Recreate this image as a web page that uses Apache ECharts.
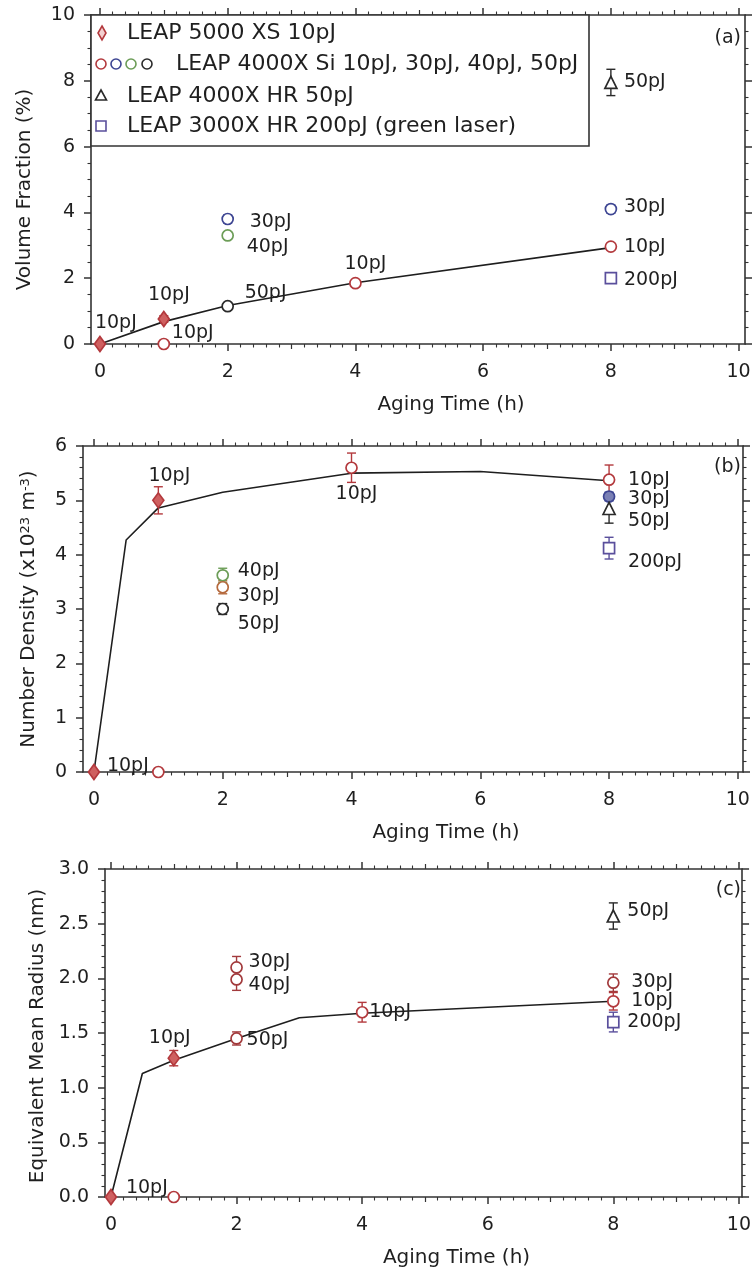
<!DOCTYPE html>
<html><head><meta charset="utf-8">
<script src="https://cdn.jsdelivr.net/npm/echarts@6/dist/echarts.min.js"></script>
<style>html,body{margin:0;padding:0;background:#fff}#c{width:754px;height:1277px}</style>
</head><body><div id="c"></div>
<script>
// ================= DATA =================
const xTickValues = [0, 2, 4, 6, 8, 10];
const yTickValuesA = [0, 2, 4, 6, 8, 10];
const yTickValuesB = [0, 1, 2, 3, 4, 5, 6];
const yTickValuesC = [0, 0.5, 1, 1.5, 2, 2.5, 3];

// Panel (a) Volume Fraction (%)
const a_trend = [[0, 0], [1, 0.68], [2, 1.17], [4, 1.86], [8, 2.93]];
const a_leap5000 = [[0, 0], [1, 0.76]];
const a_leap5000_err = [0, 0.1];
const a_leap5000_lab = ['10pJ', '10pJ'];
const a_si10 = [[1, 0], [4, 1.85], [8, 2.96]];
const a_si10_err = [0, 0.06, 0.06];
const a_si10_lab = ['10pJ', '10pJ', '10pJ'];
const a_si30 = [[2, 3.8], [8, 4.1]];
const a_si30_err = [0.12, 0.12];
const a_si30_lab = ['30pJ', '30pJ'];
const a_si40 = [[2, 3.3]];
const a_si40_err = [0.1];
const a_si40_lab = ['40pJ'];
const a_si50 = [[2, 1.15]];
const a_si50_err = [0.04];
const a_si50_lab = ['50pJ'];
const a_hr50 = [[8, 7.95]];
const a_hr50_err = [0.4];
const a_hr50_lab = ['50pJ'];
const a_x3000 = [[8, 2.0]];
const a_x3000_err = [0.08];
const a_x3000_lab = ['200pJ'];

// Panel (b) Number Density (x10^23 m^-3)
const b_trend = [[0, 0], [0.5, 4.27], [1, 4.86], [2, 5.15], [4, 5.5], [6, 5.53], [8, 5.36]];
const b_leap5000 = [[0, 0], [1, 5.0]];
const b_leap5000_err = [0, 0.25];
const b_leap5000_lab = ['10pJ', '10pJ'];
const b_si10 = [[1, 0], [4, 5.6], [8, 5.38]];
const b_si10_err = [0, 0.27, 0.27];
const b_si10_lab = ['', '10pJ', '10pJ'];
const b_si40 = [[2, 3.62]];
const b_si40_err = [0.13];
const b_si40_lab = ['40pJ'];
const b_si30 = [[2, 3.4]];
const b_si30_err = [0.12];
const b_si30_lab = ['30pJ'];
const b_si50 = [[2, 3.0]];
const b_si50_err = [0.1];
const b_si50_lab = ['50pJ'];
const b_si30h = [[8, 5.07]];
const b_si30h_err = [0.08];
const b_si30h_lab = ['30pJ'];
const b_hr50 = [[8, 4.85]];
const b_hr50_err = [0.27];
const b_hr50_lab = ['50pJ'];
const b_x3000 = [[8, 4.12]];
const b_x3000_err = [0.2];
const b_x3000_lab = ['200pJ'];

// Panel (c) Equivalent Mean Radius (nm)
const c_trend = [[0, 0], [0.5, 1.13], [1, 1.25], [2, 1.45], [3, 1.64], [4, 1.68], [8, 1.79]];
const c_leap5000 = [[0, 0], [1, 1.27]];
const c_leap5000_err = [0, 0.07];
const c_leap5000_lab = ['', '10pJ'];
const c_si10 = [[1, 0], [4, 1.69], [8, 1.79]];
const c_si10_err = [0, 0.09, 0.08];
const c_si10_lab = ['10pJ', '10pJ', '10pJ'];
const c_si30 = [[2, 2.1], [8, 1.96]];
const c_si30_err = [0.1, 0.08];
const c_si30_lab = ['30pJ', '30pJ'];
const c_si40 = [[2, 1.99]];
const c_si40_err = [0.1];
const c_si40_lab = ['40pJ'];
const c_si50 = [[2, 1.45]];
const c_si50_err = [0.06];
const c_si50_lab = ['50pJ'];
const c_hr50 = [[8, 2.57]];
const c_hr50_err = [0.12];
const c_hr50_lab = ['50pJ'];
const c_x3000 = [[8, 1.6]];
const c_x3000_err = [0.09];
const c_x3000_lab = ['200pJ'];

// ================= STYLE =================
const FONT = 'DejaVu Sans';
const INK = '#1f1f1f';
const FRAME = '#333333';
const COL = {
  red: '#b3393d', blue: '#3d4592', green: '#6c9d57', black: '#2a2a2a',
  purple: '#5a4f9c', orange: '#b5693d', brown: '#a23a3c'
};
// label offsets [dx, dy, align] per point
const OFF = {
  a_leap5000: [[-5, -21, 'left'], [5, -24, 'center']],
  a_si10: [[8, -11, 'left'], [10, -19, 'center'], [13, 0, 'left']],
  a_si30: [[22, 3, 'left'], [13, -2, 'left']],
  a_si40: [[19, 12, 'left']],
  a_si50: [[17, -13, 'left']],
  a_hr50: [[13, 0, 'left']],
  a_x3000: [[13, 2, 'left']],
  b_leap5000: [[13, -6, 'left'], [11, -24, 'center']],
  b_si10: [[0, 0, 'left'], [5, 26, 'center'], [19, 0, 'left']],
  b_si40: [[15, -4, 'left']],
  b_si30: [[15, 9, 'left']],
  b_si50: [[15, 15, 'left']],
  b_si30h: [[19, 3, 'left']],
  b_hr50: [[19, 13, 'left']],
  b_x3000: [[19, 14, 'left']],
  c_leap5000: [[0, 0, 'left'], [-4, -20, 'center']],
  c_si10: [[-6, -9, 'right'], [7, 0, 'left'], [18, 0, 'left']],
  c_si30: [[12, -5, 'left'], [18, -1, 'left']],
  c_si40: [[12, 6, 'left']],
  c_si50: [[10, 2, 'left']],
  c_hr50: [[14, -5, 'left']],
  c_x3000: [[14, 0, 'left']]
};

const GRIDS = [
  { left: 91, width: 654, top: 15, height: 329, xmin: -0.14, xmax: 10.1, ymin: 0, ymax: 10,
    yLabels: yTickValuesA, yMajor: 2, yMinor: 0.5, yFmt: v => String(v),
    yName: 'Volume Fraction (%)', yGap: 56, yNamePad: [0, 20, 0, 0] },
  { left: 83, width: 660, top: 446, height: 326, xmin: -0.17, xmax: 10.08, ymin: 0, ymax: 6,
    yLabels: yTickValuesB, yMajor: 1, yMinor: 0.2, yFmt: v => String(v),
    yName: 'Number Density (x10{sup|23} m{sup|-3})', yGap: 44, yNamePad: [0, 0, 0, 0] },
  { left: 105, width: 640, top: 869, height: 328, xmin: -0.095, xmax: 10.05, ymin: 0, ymax: 3,
    yLabels: yTickValuesC, yMajor: 0.5, yMinor: 0.1, yFmt: v => v.toFixed(1),
    yName: 'Equivalent Mean Radius (nm)', yGap: 54, yNamePad: [0, 6, 0, 0] }
];

function steps(a, b, s) { const r = []; for (let i = 0; a + i * s <= b + 1e-9; i++) r.push(+(a + i * s).toFixed(4)); return r; }

const xAxes = [], yAxes = [];
GRIDS.forEach((g, gi) => {
  const evens = xTickValues;
  const odds = [1, 3, 5, 7, 9];
  const minors = steps(0, 10, 0.2).filter(v => Math.abs(v - Math.round(v)) > 1e-6);
  const base = { type: 'value', gridIndex: gi, min: g.xmin, max: g.xmax, splitLine: { show: false } };
  const line = { show: true, onZero: false, lineStyle: { color: FRAME, width: 1.6 } };
  const noLine = { show: false, onZero: false };
  ['bottom', 'top'].forEach(pos => {
    xAxes.push(Object.assign({}, base, {
      position: pos, axisLine: line,
      axisTick: { show: true, length: 7, customValues: evens, lineStyle: { color: FRAME, width: 1.5 } },
      axisLabel: pos === 'bottom'
        ? { show: true, customValues: xTickValues, margin: 19, fontSize: 19, color: INK, fontFamily: FONT }
        : { show: false },
      name: pos === 'bottom' ? 'Aging Time (h)' : '',
      nameLocation: 'middle', nameGap: 51,
      nameTextStyle: { fontSize: 20, color: INK, fontFamily: FONT, padding: [0, 0, 0, 66] }
    }));
    xAxes.push(Object.assign({}, base, {
      position: pos, axisLine: noLine, axisLabel: { show: false },
      axisTick: { show: true, length: 5, customValues: odds, lineStyle: { color: FRAME, width: 1.2 } }
    }));
    xAxes.push(Object.assign({}, base, {
      position: pos, axisLine: noLine, axisLabel: { show: false },
      axisTick: { show: true, length: 3.5, customValues: minors, lineStyle: { color: FRAME, width: 1.1 } }
    }));
  });
  const ybase = { type: 'value', gridIndex: gi, min: g.ymin, max: g.ymax, splitLine: { show: false } };
  const yMajors = steps(g.ymin, g.ymax, g.yMajor);
  const yMinors = steps(g.ymin, g.ymax, g.yMinor).filter(v => yMajors.every(m => Math.abs(m - v) > 1e-6));
  ['left', 'right'].forEach(pos => {
    yAxes.push(Object.assign({}, ybase, {
      position: pos, axisLine: line,
      axisTick: { show: true, length: 7, customValues: yMajors, lineStyle: { color: FRAME, width: 1.5 } },
      axisLabel: pos === 'left'
        ? { show: true, customValues: g.yLabels, formatter: g.yFmt, margin: 16, fontSize: 19, color: INK, fontFamily: FONT }
        : { show: false },
      name: pos === 'left' ? g.yName : '',
      nameLocation: 'middle', nameGap: g.yGap, nameRotate: 90,
      nameTextStyle: { fontSize: 20, color: INK, fontFamily: FONT, padding: g.yNamePad,
        rich: { sup: { fontSize: 13, verticalAlign: 'top', color: INK, fontFamily: FONT, padding: [0, 0, 6, 0] } } }
    }));
    yAxes.push(Object.assign({}, ybase, {
      position: pos, axisLine: noLine, axisLabel: { show: false },
      axisTick: { show: true, length: 3.5, customValues: yMinors, lineStyle: { color: FRAME, width: 1.1 } }
    }));
  });
});

function errItem(params, api) {
  const x = api.value(0), lo = api.value(1), hi = api.value(2);
  if (hi - lo <= 0) return null;
  const p1 = api.coord([x, hi]), p2 = api.coord([x, lo]);
  const w = 4.5;
  const st = { stroke: api.visual('color'), lineWidth: 1.4, fill: null };
  return { type: 'group', children: [
    { type: 'line', shape: { x1: p1[0], y1: p1[1], x2: p2[0], y2: p2[1] }, style: st },
    { type: 'line', shape: { x1: p1[0] - w, y1: p1[1], x2: p1[0] + w, y2: p1[1] }, style: st },
    { type: 'line', shape: { x1: p2[0] - w, y1: p2[1], x2: p2[0] + w, y2: p2[1] }, style: st }
  ] };
}

const series = [];
function addTrend(gi, data) {
  series.push({ type: 'line', xAxisIndex: gi * 6, yAxisIndex: gi * 4, data: data, symbol: 'none',
    lineStyle: { color: '#1e1e1e', width: 1.6 }, z: 3, silent: true, animation: false });
}
function addPoints(gi, key, data, err, labels, sty) {
  const offs = OFF[key];
  series.push({ type: 'custom', xAxisIndex: gi * 6, yAxisIndex: gi * 4, renderItem: errItem,
    itemStyle: { color: sty.color, opacity: 1 }, z: 2, animation: false, silent: true,
    data: data.map((d, i) => [d[0], d[1] - err[i], d[1] + err[i]]) });
  series.push({ type: 'scatter', xAxisIndex: gi * 6, yAxisIndex: gi * 4, z: 4, animation: false, silent: true,
    symbol: sty.symbol, symbolSize: sty.size,
    itemStyle: { color: sty.fill, borderColor: sty.color, borderWidth: 1.7, opacity: 1 },
    data: data.map((d, i) => ({ value: d, label: {
      show: !!labels[i], formatter: labels[i], position: 'inside',
      offset: [offs[i][0], offs[i][1]], align: offs[i][2], verticalAlign: 'middle', opacity: 1,
      fontSize: 19, color: INK, textBorderWidth: 0, fontFamily: FONT } })) });
}
const S = {
  diamond: { symbol: 'diamond', size: [11, 15], color: COL.red, fill: '#cf6060' },
  red: { symbol: 'circle', size: 11, color: COL.red, fill: '#fff' },
  blue: { symbol: 'circle', size: 11, color: COL.blue, fill: '#fff' },
  blueF: { symbol: 'circle', size: 11, color: COL.blue, fill: '#7a80b5' },
  green: { symbol: 'circle', size: 11, color: COL.green, fill: '#fff' },
  black: { symbol: 'circle', size: 11, color: COL.black, fill: '#fff' },
  orange: { symbol: 'circle', size: 11, color: COL.orange, fill: '#fff' },
  brown: { symbol: 'circle', size: 11, color: COL.brown, fill: '#fff' },
  tri: { symbol: 'triangle', size: 12, color: COL.black, fill: '#fff' },
  sq: { symbol: 'rect', size: 11, color: COL.purple, fill: '#fff' }
};

// panel a
addTrend(0, a_trend);
addPoints(0, 'a_si10', a_si10, a_si10_err, a_si10_lab, S.red);
addPoints(0, 'a_si30', a_si30, a_si30_err, a_si30_lab, S.blue);
addPoints(0, 'a_si40', a_si40, a_si40_err, a_si40_lab, S.green);
addPoints(0, 'a_si50', a_si50, a_si50_err, a_si50_lab, S.black);
addPoints(0, 'a_hr50', a_hr50, a_hr50_err, a_hr50_lab, S.tri);
addPoints(0, 'a_x3000', a_x3000, a_x3000_err, a_x3000_lab, S.sq);
addPoints(0, 'a_leap5000', a_leap5000, a_leap5000_err, a_leap5000_lab, S.diamond);
// panel b
addTrend(1, b_trend);
addPoints(1, 'b_si10', b_si10, b_si10_err, b_si10_lab, S.red);
addPoints(1, 'b_si40', b_si40, b_si40_err, b_si40_lab, S.green);
addPoints(1, 'b_si30', b_si30, b_si30_err, b_si30_lab, S.orange);
addPoints(1, 'b_si50', b_si50, b_si50_err, b_si50_lab, S.black);
addPoints(1, 'b_si30h', b_si30h, b_si30h_err, b_si30h_lab, S.blueF);
addPoints(1, 'b_hr50', b_hr50, b_hr50_err, b_hr50_lab, S.tri);
addPoints(1, 'b_x3000', b_x3000, b_x3000_err, b_x3000_lab, S.sq);
addPoints(1, 'b_leap5000', b_leap5000, b_leap5000_err, b_leap5000_lab, S.diamond);
// panel c
addTrend(2, c_trend);
addPoints(2, 'c_si10', c_si10, c_si10_err, c_si10_lab, S.red);
addPoints(2, 'c_si30', c_si30, c_si30_err, c_si30_lab, S.brown);
addPoints(2, 'c_si40', c_si40, c_si40_err, c_si40_lab, S.brown);
addPoints(2, 'c_si50', c_si50, c_si50_err, c_si50_lab, S.brown);
addPoints(2, 'c_hr50', c_hr50, c_hr50_err, c_hr50_lab, S.tri);
addPoints(2, 'c_x3000', c_x3000, c_x3000_err, c_x3000_lab, S.sq);
addPoints(2, 'c_leap5000', c_leap5000, c_leap5000_err, c_leap5000_lab, S.diamond);

// legend (panel a) and panel tags
const legendItems = [
  'LEAP 5000 XS 10pJ',
  'LEAP 4000X Si 10pJ, 30pJ, 40pJ, 50pJ',
  'LEAP 4000X HR 50pJ',
  'LEAP 3000X HR 200pJ (green laser)'
];
const panelTags = ['(a)', '(b)', '(c)'];
const txt = (x, y, t, align, size) => ({ type: 'text', x: x, y: y, z: 20,
  style: { text: t, fontSize: size || 22, fontFamily: FONT, fill: INK, textAlign: align || 'left', textVerticalAlign: 'middle' } });
const circ = (x, y, c) => ({ type: 'circle', z: 20, shape: { cx: x, cy: y, r: 5 }, style: { fill: '#fff', stroke: c, lineWidth: 1.6 } });
const graphic = [
  { type: 'rect', z: 15, shape: { x: 91, y: 15, width: 498, height: 131 }, style: { fill: '#fff', stroke: FRAME, lineWidth: 1.6 } },
  { type: 'polygon', z: 20, shape: { points: [[102, 26], [106, 33], [102, 40], [98, 33]] }, style: { fill: '#f3d0d0', stroke: COL.red, lineWidth: 1.6 } },
  txt(127, 33, legendItems[0]),
  circ(101, 64, COL.red), circ(116, 64, COL.blue), circ(131, 64, COL.green), circ(147, 64, COL.black),
  txt(176, 64, legendItems[1]),
  { type: 'polygon', z: 20, shape: { points: [[101, 90], [106.5, 100], [95.5, 100]] }, style: { fill: '#fff', stroke: COL.black, lineWidth: 1.6 } },
  txt(127, 96, legendItems[2]),
  { type: 'rect', z: 20, shape: { x: 96, y: 121, width: 10, height: 10 }, style: { fill: '#fff', stroke: COL.purple, lineWidth: 1.6 } },
  txt(127, 126, legendItems[3]),
  txt(741, 38, panelTags[0], 'right', 19),
  txt(741, 467, panelTags[1], 'right', 19),
  txt(741, 890, panelTags[2], 'right', 19)
];

const chart = echarts.init(document.getElementById('c'), null, { renderer: 'canvas' });
chart.setOption({
  animation: false,
  backgroundColor: '#fff',
  textStyle: { fontFamily: FONT },
  grid: GRIDS.map(g => ({ left: g.left, width: g.width, top: g.top, height: g.height })),
  xAxis: xAxes,
  yAxis: yAxes,
  series: series,
  graphic: graphic
});
</script></body></html>
